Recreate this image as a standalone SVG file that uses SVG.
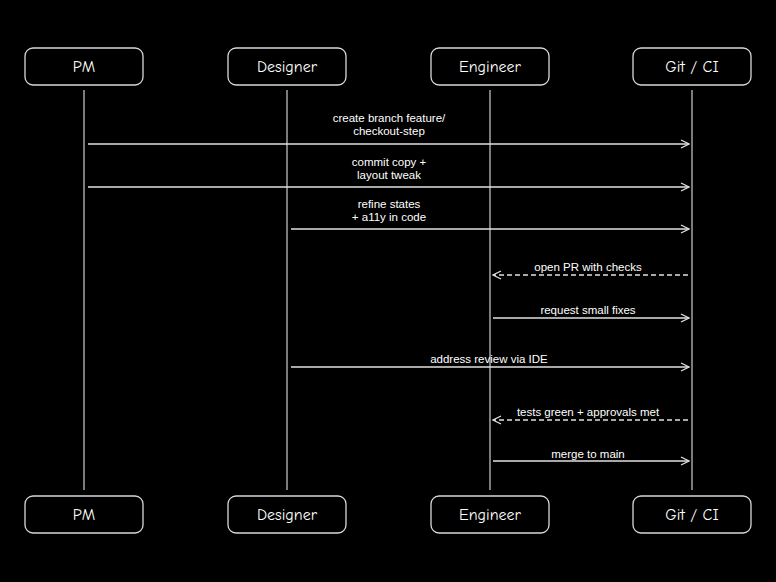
<svg xmlns="http://www.w3.org/2000/svg" width="776" height="582" viewBox="0 0 776 582">
<style>
.box{fill:#000;stroke:#d8d8d8;stroke-width:1.3}
.nt{font-family:"Comic Neue","Liberation Sans",sans-serif;font-size:16px;fill:#fff;text-anchor:middle}
.lt{font-family:"Liberation Sans",sans-serif;font-size:11.5px;fill:#fff;text-anchor:middle}
.life{stroke:#cfcfcf;stroke-width:1.2}
.msg{stroke:#e0e0e0;stroke-width:1.3;fill:none}
.dash{stroke-dasharray:5 3}
</style>
<defs><marker id="ah" markerWidth="10" markerHeight="10" refX="9" refY="5" orient="auto" markerUnits="userSpaceOnUse"><path d="M1,1 L9,5 L1,9" fill="none" stroke="#e0e0e0" stroke-width="1.3"/></marker></defs>
<rect width="776" height="582" fill="#000"/>
<g id="lifelines">
<line class="life" x1="84" y1="90" x2="84" y2="490"/>
<line class="life" x1="287" y1="90" x2="287" y2="490"/>
<line class="life" x1="490" y1="90" x2="490" y2="490"/>
<line class="life" x1="692" y1="90" x2="692" y2="490"/>
</g>
<g id="pm"><rect class="box" x="25" y="48" width="118" height="37" rx="8"/><text class="nt" x="84" y="72">PM</text>
<rect class="box" x="25" y="496" width="118" height="37" rx="8"/><text class="nt" x="84" y="520">PM</text></g>
<g id="designer"><rect class="box" x="228" y="48" width="118" height="37" rx="8"/><text class="nt" x="287" y="72">Designer</text>
<rect class="box" x="228" y="496" width="118" height="37" rx="8"/><text class="nt" x="287" y="520">Designer</text></g>
<g id="engineer"><rect class="box" x="431" y="48" width="118" height="37" rx="8"/><text class="nt" x="490" y="72">Engineer</text>
<rect class="box" x="431" y="496" width="118" height="37" rx="8"/><text class="nt" x="490" y="520">Engineer</text></g>
<g id="git"><rect class="box" x="633" y="48" width="118" height="37" rx="8"/><text class="nt" x="692" y="72">Git / CI</text>
<rect class="box" x="633" y="496" width="118" height="37" rx="8"/><text class="nt" x="692" y="520">Git / CI</text></g>
<g id="connectors">
<line class="msg" x1="88" y1="144" x2="689" y2="144" marker-end="url(#ah)"/>
<line class="msg" x1="88" y1="187" x2="689" y2="187" marker-end="url(#ah)"/>
<line class="msg" x1="291" y1="229" x2="689" y2="229" marker-end="url(#ah)"/>
<line class="msg dash" x1="688" y1="275" x2="493" y2="275" marker-end="url(#ah)"/>
<line class="msg" x1="493" y1="318" x2="689" y2="318" marker-end="url(#ah)"/>
<line class="msg" x1="291" y1="367" x2="689" y2="367" marker-end="url(#ah)"/>
<line class="msg dash" x1="688" y1="420" x2="493" y2="420" marker-end="url(#ah)"/>
<line class="msg" x1="493" y1="461" x2="689" y2="461" marker-end="url(#ah)"/>
</g>
<g id="labels">
<text class="lt" x="389" y="122">create branch feature/</text>
<text class="lt" x="389" y="135">checkout-step</text>
<text class="lt" x="389" y="166">commit copy +</text>
<text class="lt" x="389" y="179">layout tweak</text>
<text class="lt" x="389" y="208">refine states</text>
<text class="lt" x="389" y="221">+ a11y in code</text>
<text class="lt" x="588" y="271">open PR with checks</text>
<text class="lt" x="588" y="314">request small fixes</text>
<text class="lt" x="489" y="363">address review via IDE</text>
<text class="lt" x="588" y="416">tests green + approvals met</text>
<text class="lt" x="588" y="458">merge to main</text>
</g>
</svg>
